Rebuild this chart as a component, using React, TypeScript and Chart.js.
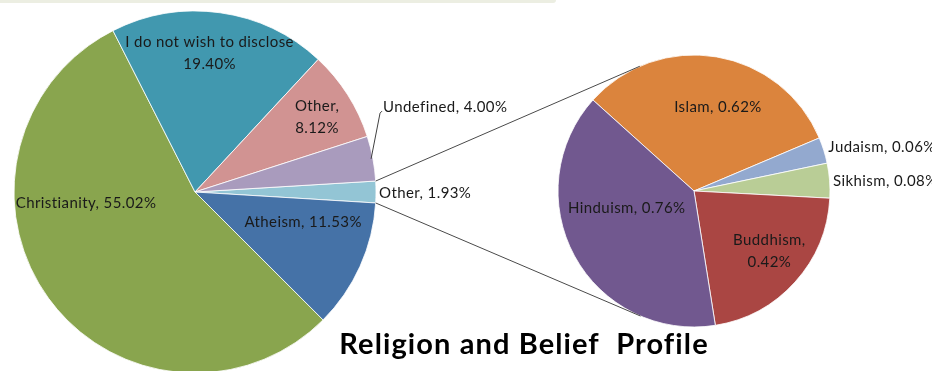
import React, { useEffect, useRef } from "react";
import { Chart, registerables } from "chart.js";

Chart.register(...registerables);

// ---- data ----
const mainLabels = ["Other", "Atheism", "Christianity", "I do not wish to disclose", "Other", "Undefined"];
const mainValues = [1.93, 11.53, 55.02, 19.4, 8.12, 4.0];
const mainColors = ["#93C5D5", "#4572A7", "#89A54E", "#4198AF", "#D19392", "#A99BBD"];

const subLabels = ["Islam", "Judaism", "Sikhism", "Buddhism", "Hinduism"];
const subValues = [0.62, 0.06, 0.08, 0.42, 0.76];
const subColors = ["#DB843D", "#93A9CF", "#B9CD96", "#AA4643", "#71588F"];

const chartTitle = "Religion and Belief  Profile";

// ---- label layout (polar, relative to each pie's centre/radius) ----
type Place = { angle: number; dist: number; align: "left" | "center"; lines: number; comma?: boolean; leader?: boolean };
const mainPlacement: Place[] = [
  { angle: 0.3, dist: 1.017, align: "left", lines: 1 },
  { angle: 15.5, dist: 0.62, align: "center", lines: 1 },
  { angle: 174.2, dist: 0.605, align: "center", lines: 1 },
  { angle: 276, dist: 0.77, align: "center", lines: 2, comma: false },
  { angle: 328.6, dist: 0.79, align: "center", lines: 2 },
  { angle: 335.7, dist: 1.14, align: "left", lines: 1, leader: true },
];
const subPlacement: Place[] = [
  { angle: 286, dist: 0.64, align: "center", lines: 1 },
  { angle: -18.2, dist: 1.04, align: "left", lines: 1 },
  { angle: -4.1, dist: 1.025, align: "left", lines: 1 },
  { angle: 38.7, dist: 0.71, align: "center", lines: 2 },
  { angle: 165.8, dist: 0.51, align: "center", lines: 1 },
];

const LABEL_FONT = "15px Lato";
const LABEL_SPACING = "0.4px";
const LINE_H = 22;

function drawLabels(chart: any, labels: string[], values: number[], place: Place[]) {
  const ctx = chart.ctx;
  const meta = chart.getDatasetMeta(0);
  const arc0 = meta.data[0] as any;
  const cx = arc0.x, cy = arc0.y, r = arc0.outerRadius;
  ctx.save();
  ctx.font = LABEL_FONT;
  (ctx as any).letterSpacing = LABEL_SPACING;
  ctx.fillStyle = "#1a1a1a";
  ctx.textBaseline = "middle";
  labels.forEach((lab, i) => {
    const p = place[i];
    const a = (p.angle * Math.PI) / 180;
    const lx = cx + Math.cos(a) * r * p.dist;
    const ly = cy + Math.sin(a) * r * p.dist;
    const val = values[i].toFixed(2) + "%";
    const lines = p.lines === 2 ? [lab + (p.comma === false ? "" : ","), val] : [lab + ", " + val];
    ctx.textAlign = p.align;
    lines.forEach((t, k) => {
      const y = ly + (k - (lines.length - 1) / 2) * LINE_H;
      ctx.fillText(t, lx, y);
    });
    if (p.leader) {
      const arc = meta.data[i] as any;
      const mid = (arc.startAngle + arc.endAngle) / 2;
      ctx.strokeStyle = "#404040";
      ctx.lineWidth = 1;
      ctx.beginPath();
      ctx.moveTo(cx + Math.cos(mid) * r * 0.99, cy + Math.sin(mid) * r * 0.99);
      ctx.lineTo(lx - 3, ly + 6);
      ctx.lineTo(lx - 1, ly + 4);
      ctx.stroke();
    }
  });
  ctx.restore();
}

export default function App() {
  const mainRef = useRef<HTMLCanvasElement>(null);
  const subRef = useRef<HTMLCanvasElement>(null);

  useEffect(() => {
    const otherShare = mainValues[0] / mainValues.reduce((a, b) => a + b, 0);

    const mainChart = new Chart(mainRef.current!, {
      type: "pie",
      data: {
        labels: mainLabels,
        datasets: [
          {
            data: mainValues,
            backgroundColor: mainColors,
            borderColor: "#ffffff",
            borderWidth: 0.8,
            radius: 181,
            clip: false as any,
          } as any,
        ],
      },
      options: {
        animation: false,
        responsive: false,
        rotation: 90 - otherShare * 180,
        layout: { padding: { left: 0, right: 542, top: 13, bottom: 0 } },
        plugins: { legend: { display: false }, tooltip: { enabled: false }, title: { display: false } },
      },
      plugins: [
        {
          id: "mainLabels",
          afterDatasetsDraw(chart: any) {
            drawLabels(chart, mainLabels, mainValues, mainPlacement);
          },
        },
      ],
    });

    const subChart = new Chart(subRef.current!, {
      type: "pie",
      data: {
        labels: subLabels,
        datasets: [
          {
            data: subValues,
            backgroundColor: subColors,
            borderColor: "#ffffff",
            borderWidth: 0.8,
            radius: 136,
            clip: false as any,
          } as any,
        ],
      },
      options: {
        animation: false,
        responsive: false,
        rotation: 312,
        layout: { padding: { left: 456, right: 0, top: 11, bottom: 0 } },
        plugins: { legend: { display: false }, tooltip: { enabled: false }, title: { display: false } },
      },
      plugins: [
        {
          id: "connectorsAndLabels",
          afterDatasetsDraw(chart: any) {
            const ctx = chart.ctx;
            const sArc = chart.getDatasetMeta(0).data[0] as any;
            const C = { x: sArc.x, y: sArc.y };
            const R = sArc.outerRadius;
            const mArc = mainChart.getDatasetMeta(0).data[0] as any;
            const mr = mArc.outerRadius;
            const pts = [mArc.startAngle, mArc.endAngle].map((a: number) => ({
              x: mArc.x + Math.cos(a) * mr,
              y: mArc.y + Math.sin(a) * mr,
            }));
            ctx.save();
            ctx.strokeStyle = "#4a4a4a";
            ctx.lineWidth = 1;
            pts.forEach((P, k) => {
              const dx = C.x - P.x, dy = C.y - P.y;
              const d = Math.hypot(dx, dy);
              const base = Math.atan2(dy, dx);
              const off = Math.asin(R / d);
              const dir = k === 0 ? base - off : base + off;
              const len = Math.sqrt(d * d - R * R);
              ctx.beginPath();
              ctx.moveTo(P.x, P.y);
              ctx.lineTo(P.x + Math.cos(dir) * len, P.y + Math.sin(dir) * len);
              ctx.stroke();
            });
            ctx.restore();
            drawLabels(chart, subLabels, subValues, subPlacement);

            ctx.save();
            ctx.font = "bold 29px Lato";
            (ctx as any).letterSpacing = "1.1px";
            ctx.fillStyle = "#000";
            ctx.textAlign = "center";
            ctx.textBaseline = "alphabetic";
            ctx.fillText(chartTitle, 524, 354);
            ctx.restore();
          },
        },
      ],
    });

    return () => {
      subChart.destroy();
      mainChart.destroy();
    };
  }, []);

  return (
    <div style={{ position: "absolute", left: 0, top: 0, width: 932, height: 371, overflow: "hidden", background: "#fff" }}>
      <div
        style={{
          position: "absolute",
          left: 0,
          top: 0,
          width: 556,
          height: 3,
          background: "#ECEEE2",
          borderBottomRightRadius: 3,
        }}
      />
      <canvas ref={mainRef} width={932} height={371} style={{ position: "absolute", left: 0, top: 0 }} />
      <canvas ref={subRef} width={932} height={371} style={{ position: "absolute", left: 0, top: 0 }} />
    </div>
  );
}
